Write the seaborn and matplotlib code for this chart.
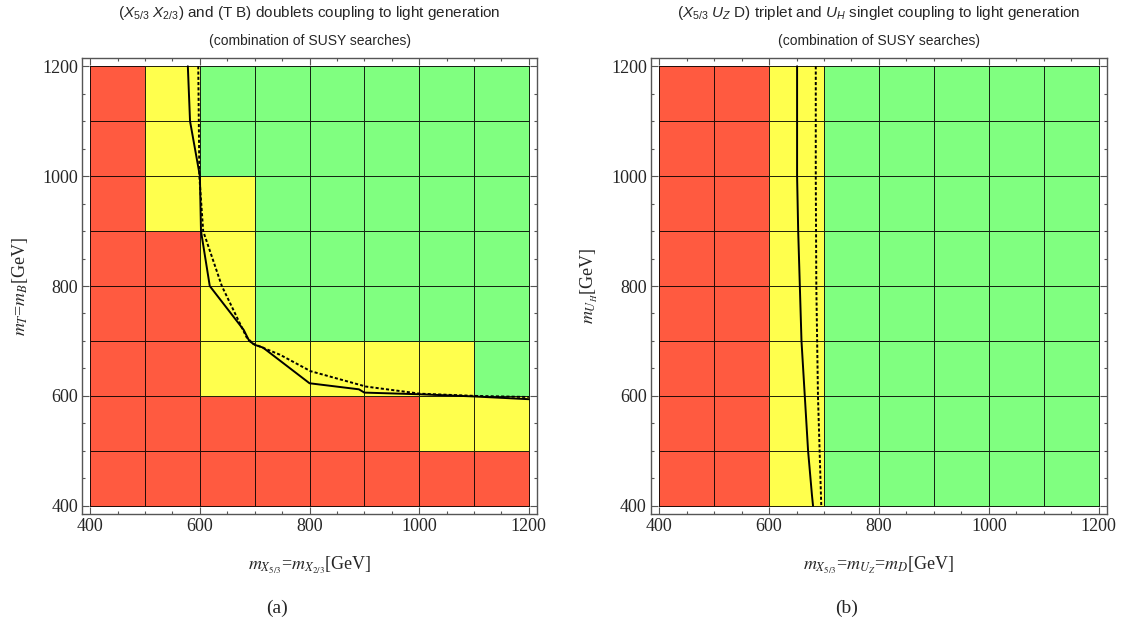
import numpy as np
import seaborn as sns
import matplotlib
matplotlib.use("Agg")
import matplotlib.pyplot as plt
from matplotlib.colors import ListedColormap
from matplotlib.ticker import MultipleLocator

# ── data ───────────────────────────────────────────────────────────────────────
edges = [400, 500, 600, 700, 800, 900, 1000, 1100, 1200]

# 0 = excluded (red), 1 = partly (yellow), 2 = allowed (green); rows bottom -> top
cells_a = [
    [0, 0, 0, 0, 0, 0, 0, 0],
    [0, 0, 0, 0, 0, 0, 1, 1],
    [0, 0, 1, 1, 1, 1, 1, 2],
    [0, 0, 1, 2, 2, 2, 2, 2],
    [0, 0, 1, 2, 2, 2, 2, 2],
    [0, 1, 1, 2, 2, 2, 2, 2],
    [0, 1, 2, 2, 2, 2, 2, 2],
    [0, 1, 2, 2, 2, 2, 2, 2],
]
cells_b = [[0, 0, 1, 2, 2, 2, 2, 2] for _ in range(8)]

solid_a_x = [578, 582, 600, 602, 618, 680, 690, 700, 715, 800, 890, 900, 1000, 1100, 1200]
solid_a_y = [1200, 1100, 1000, 900, 800, 720, 700, 693, 688, 623, 612, 606, 603, 599, 594]
dot_a_x = [597, 599, 606, 640, 685, 697, 746, 802, 903, 1002, 1102, 1200]
dot_a_y = [1200, 1000, 900, 800, 707, 695, 675, 645, 617, 604, 600, 598]

solid_b_x = [651, 651, 653, 656, 659, 665, 671, 678, 680]
solid_b_y = [1200, 1000, 900, 800, 700, 600, 500, 420, 400]
dot_b_x = [685, 685, 686, 689, 692, 695]
dot_b_y = [1200, 1000, 800, 600, 500, 400]

title1_a = r"($X_{5/3}$ $X_{2/3}$) and (T B) doublets coupling to light generation"
title1_b = r"($X_{5/3}$ $U_Z$ D) triplet and $U_H$ singlet coupling to light generation"
title2 = "(combination of SUSY searches)"
xlabel_a = r"$m_{X_{5/3}}$=$m_{X_{2/3}}$[GeV]"
ylabel_a = r"$m_T$=$m_B$[GeV]"
xlabel_b = r"$m_{X_{5/3}}$=$m_{U_Z}$=$m_D$[GeV]"
ylabel_b = r"$m_{U_H}$[GeV]"

# ── style ──────────────────────────────────────────────────────────────────────
sns.set_style("ticks")
plt.rcParams["font.family"] = ["Liberation Serif", "DejaVu Serif"]
plt.rcParams["mathtext.fontset"] = "custom"
plt.rcParams["mathtext.rm"] = "Liberation Sans"
plt.rcParams["mathtext.it"] = "Liberation Sans:italic"

cmap = ListedColormap(["#ff5a40", "#ffff4d", "#80ff80"])
SPINE = "#555555"

fig = plt.figure(figsize=(11.27, 6.28), dpi=100)
ax_a = fig.add_axes([0.0728, 0.1815, 0.4037, 0.7261])
ax_b = fig.add_axes([0.5776, 0.1815, 0.4046, 0.7261])


def panel(ax, cells, sx, sy, dx, dy, t1, xl, yl, ylx):
    ax.pcolormesh(edges, edges, np.array(cells), cmap=cmap, vmin=-0.5, vmax=2.5,
                  edgecolors=(0, 0, 0, 0.85), linewidth=0.7)
    sns.lineplot(x=sx, y=sy, sort=False, estimator=None, color="black",
                 lw=1.4, ax=ax)
    sns.lineplot(x=dx, y=dy, sort=False, estimator=None, color="black",
                 lw=1.4, linestyle=(0, (1.6, 1.1)), ax=ax)
    ax.set_xlim(385, 1215)
    ax.set_ylim(385, 1215)
    ax.xaxis.set_major_locator(MultipleLocator(200))
    ax.yaxis.set_major_locator(MultipleLocator(200))
    ax.xaxis.set_minor_locator(MultipleLocator(50))
    ax.yaxis.set_minor_locator(MultipleLocator(50))
    ax.tick_params(which="both", direction="in", top=True, right=True,
                   color=SPINE, width=0.8)
    ax.tick_params(which="major", length=5, labelsize=13, pad=3)
    ax.tick_params(which="minor", length=2.5)
    for s in ax.spines.values():
        s.set_color(SPINE)
        s.set_linewidth(1.0)
    ax.set_xlabel(xl, fontsize=13, math_fontfamily="stix")
    ax.set_ylabel(yl, fontsize=13, math_fontfamily="stix")
    ax.xaxis.label.set_va("center")
    ax.yaxis.label.set_va("center")
    ax.xaxis.set_label_coords(0.5, -0.112)
    ax.yaxis.set_label_coords(ylx, 0.5)
    ax.text(0.5, 1.0 + 45 / 456, t1, transform=ax.transAxes, ha="center",
            va="center", fontsize=11, family="Liberation Sans")
    ax.text(0.5, 1.0 + 17 / 456, title2, transform=ax.transAxes, ha="center",
            va="center", fontsize=10, family="Liberation Sans")


panel(ax_a, cells_a, solid_a_x, solid_a_y, dot_a_x, dot_a_y,
      title1_a, xlabel_a, ylabel_a, -0.136)
panel(ax_b, cells_b, solid_b_x, solid_b_y, dot_b_x, dot_b_y,
      title1_b, xlabel_b, ylabel_b, -0.134)

fig.text(277 / 1127, 1 - 608 / 628, "(a)", ha="center", va="center", fontsize=14)
fig.text(847 / 1127, 1 - 608 / 628, "(b)", ha="center", va="center", fontsize=14)

fig.savefig("out.png", dpi=100)
